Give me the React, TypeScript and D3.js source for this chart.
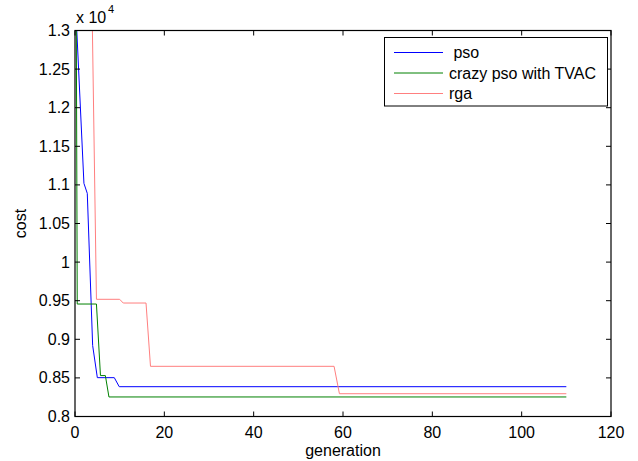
import React from 'react';
import * as d3 from 'd3';

// values (cost in plain units, shown as x 10^4)
const PSO_GEN = [0.4, 2.0, 2.75, 3.95, 5, 8.8, 9.9, 110];
const PSO_COST = [13000, 11020, 10890, 8920, 8503, 8503, 8386, 8386];

const CRAZY_GEN = [0.3, 0.5, 4.8, 5.7, 6.8, 7.6, 110];
const CRAZY_COST = [13000, 9457, 9457, 8530, 8530, 8253, 8253];

const RGA_GEN = [0, 3.9, 4.8, 10, 10.8, 15.9, 16.9, 58, 59.2, 110];
const RGA_COST = [13000, 13000, 9518, 9518, 9470, 9470, 8650, 8650, 8295, 8295];

const X_TICKS = [0, 20, 40, 60, 80, 100, 120];
const Y_TICKS = [8000, 8500, 9000, 9500, 10000, 10500, 11000, 11500, 12000, 12500, 13000];

const SERIES = [
  { name: ' pso', gen: PSO_GEN, cost: PSO_COST, color: '#0000ff' },
  { name: 'crazy pso with TVAC', gen: CRAZY_GEN, cost: CRAZY_COST, color: '#008000' },
  { name: 'rga', gen: RGA_GEN, cost: RGA_COST, color: '#ff7f7f' },
];

const W = 638;
const H = 461;
const margin = { top: 30.5, right: 27, bottom: 44.5, left: 75 };
const FONT = 'Liberation Sans, Arial, sans-serif';
const FS = 16;

const App = () => {
  const x = d3.scaleLinear().domain([0, 120]).range([margin.left, W - margin.right]);
  const y = d3.scaleLinear().domain([8000, 13000]).range([H - margin.bottom, margin.top]);

  const line = d3.line<[number, number]>()
    .x(d => x(d[0]))
    .y(d => y(d[1]));

  const x0 = x.range()[0];
  const x1 = x.range()[1];
  const y0 = y.range()[0];
  const y1 = y.range()[1];
  const tick = 5;

  return (
    <svg width={W} height={H} style={{ position: 'absolute', left: 0, top: 0, background: '#fff' }}
      fontFamily={FONT}>
      <rect x={0} y={0} width={W} height={H} fill="#fff" />
      <defs>
        <clipPath id="plot">
          <rect x={x0} y={y1 - 1} width={x1 - x0} height={y0 - y1 + 1} />
        </clipPath>
      </defs>

      {/* series */}
      <g clipPath="url(#plot)">
        {SERIES.map(s => (
          <path key={s.name}
            d={line(s.gen.map((g, i) => [g, s.cost[i]] as [number, number])) || ''}
            fill="none" stroke={s.color} strokeWidth={1} />
        ))}
      </g>

      {/* box */}
      <rect x={x0} y={y1} width={x1 - x0} height={y0 - y1} fill="none" stroke="#000" strokeWidth={1.2} />

      {/* x ticks */}
      {X_TICKS.map(t => (
        <g key={'x' + t}>
          <line x1={x(t)} x2={x(t)} y1={y0} y2={y0 - tick} stroke="#000" />
          <line x1={x(t)} x2={x(t)} y1={y1} y2={y1 + tick} stroke="#000" />
          <text x={x(t)} y={y0 + 21} fontSize={FS} textAnchor="middle">{t}</text>
        </g>
      ))}

      {/* y ticks */}
      {Y_TICKS.map(t => (
        <g key={'y' + t}>
          <line x1={x0} x2={x0 + tick} y1={y(t)} y2={y(t)} stroke="#000" />
          <line x1={x1} x2={x1 - tick} y1={y(t)} y2={y(t)} stroke="#000" />
          <text x={x0 - 5} y={y(t) + 5.5} fontSize={FS} textAnchor="end">{d3.format('')(t / 10000)}</text>
        </g>
      ))}

      {/* exponent */}
      <text x={76} y={23} fontSize={FS}>x 10</text>
      <text x={108} y={13} fontSize={11}>4</text>

      {/* axis labels */}
      <text x={(x0 + x1) / 2} y={456} fontSize={FS} textAnchor="middle">generation</text>
      <text transform={`translate(26,${(y0 + y1) / 2}) rotate(-90)`} fontSize={FS} textAnchor="middle">cost</text>

      {/* legend */}
      <rect x={384.5} y={37.5} width={223} height={68.5} fill="#fff" stroke="#000" strokeWidth={1} />
      {SERIES.map((s, i) => (
        <g key={'l' + s.name}>
          <line x1={394} x2={443} y1={52.5 + i * 20.5} y2={52.5 + i * 20.5} stroke={s.color} strokeWidth={1} />
          <text x={449} y={58 + i * 20.5} fontSize={FS} style={{ whiteSpace: 'pre' }}>{s.name}</text>
        </g>
      ))}
    </svg>
  );
};

export default App;
